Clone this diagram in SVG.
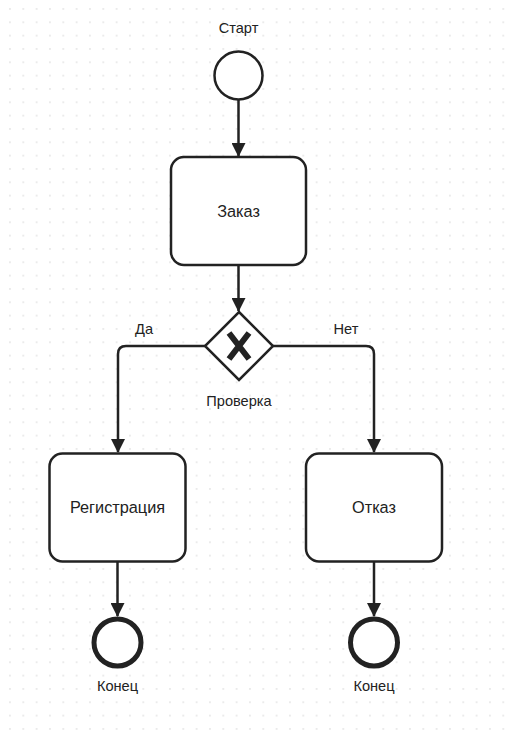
<svg xmlns="http://www.w3.org/2000/svg" width="510" height="733" viewBox="0 0 510 733">
<defs>
<pattern id="grid" x="3.3" y="2.3" width="13.333" height="13.333" patternUnits="userSpaceOnUse">
<rect x="6" y="6" width="1.3" height="1.3" fill="#d4d4d4"/>
</pattern>
<marker id="arr" viewBox="0 0 14 14" refX="13" refY="7" markerWidth="14" markerHeight="14" markerUnits="userSpaceOnUse" orient="auto">
<path d="M0,0 L14,7 L0,14 Z" fill="#222"/>
</marker>
</defs>
<style>
.task{fill:#fff;stroke:#222;stroke-width:2.5}
.ev{fill:#fff;stroke:#222;stroke-width:2.5}
.end{fill:#fff;stroke:#222;stroke-width:5}
.edge{fill:none;stroke:#222;stroke-width:2.5;marker-end:url(#arr)}
text{font-family:"Liberation Sans",Arial,sans-serif;fill:#222;text-anchor:middle}
.t{font-size:16.3px}
.l{font-size:14.6px}
</style>
<rect width="510" height="733" fill="#fff"/>
<rect width="510" height="733" fill="url(#grid)"/>
<g id="connectors">
<path class="edge" d="M238.5,100 L238.5,156"/>
<path class="edge" d="M238.5,265 L238.5,311"/>
<path class="edge" d="M205,346 L126,346 Q118,346 118,354 L118,452"/>
<path class="edge" d="M273,346 L366,346 Q374,346 374,354 L374,452"/>
<path class="edge" d="M117.5,562 L117.5,616"/>
<path class="edge" d="M374,562 L374,616"/>
<text class="l" x="144" y="334">Да</text>
<text class="l" x="346" y="334">Нет</text>
</g>
<g id="start">
<circle class="ev" cx="238.5" cy="75.5" r="24"/>
<text class="l" x="238.5" y="33">Старт</text>
</g>
<g id="order">
<rect class="task" x="171" y="157" width="135" height="108" rx="13"/>
<text class="t" x="238.5" y="217">Заказ</text>
</g>
<g id="check">
<path class="task" d="M239,312 L273,346 L239,380 L205,346 Z"/>
<path d="M229,333 L249,359 M249,333 L229,359" stroke="#222" stroke-width="6" fill="none"/>
<text class="l" x="239" y="406">Проверка</text>
</g>
<g id="register">
<rect class="task" x="49.5" y="453.5" width="136" height="108" rx="13"/>
<text class="t" x="117.5" y="513">Регистрация</text>
</g>
<g id="reject">
<rect class="task" x="306" y="453.5" width="136" height="108" rx="13"/>
<text class="t" x="374" y="513">Отказ</text>
</g>
<g id="end1">
<circle class="end" cx="117.5" cy="642.5" r="23.5"/>
<text class="l" x="117.5" y="691">Конец</text>
</g>
<g id="end2">
<circle class="end" cx="374" cy="642.5" r="23.5"/>
<text class="l" x="374" y="691">Конец</text>
</g>
</svg>
